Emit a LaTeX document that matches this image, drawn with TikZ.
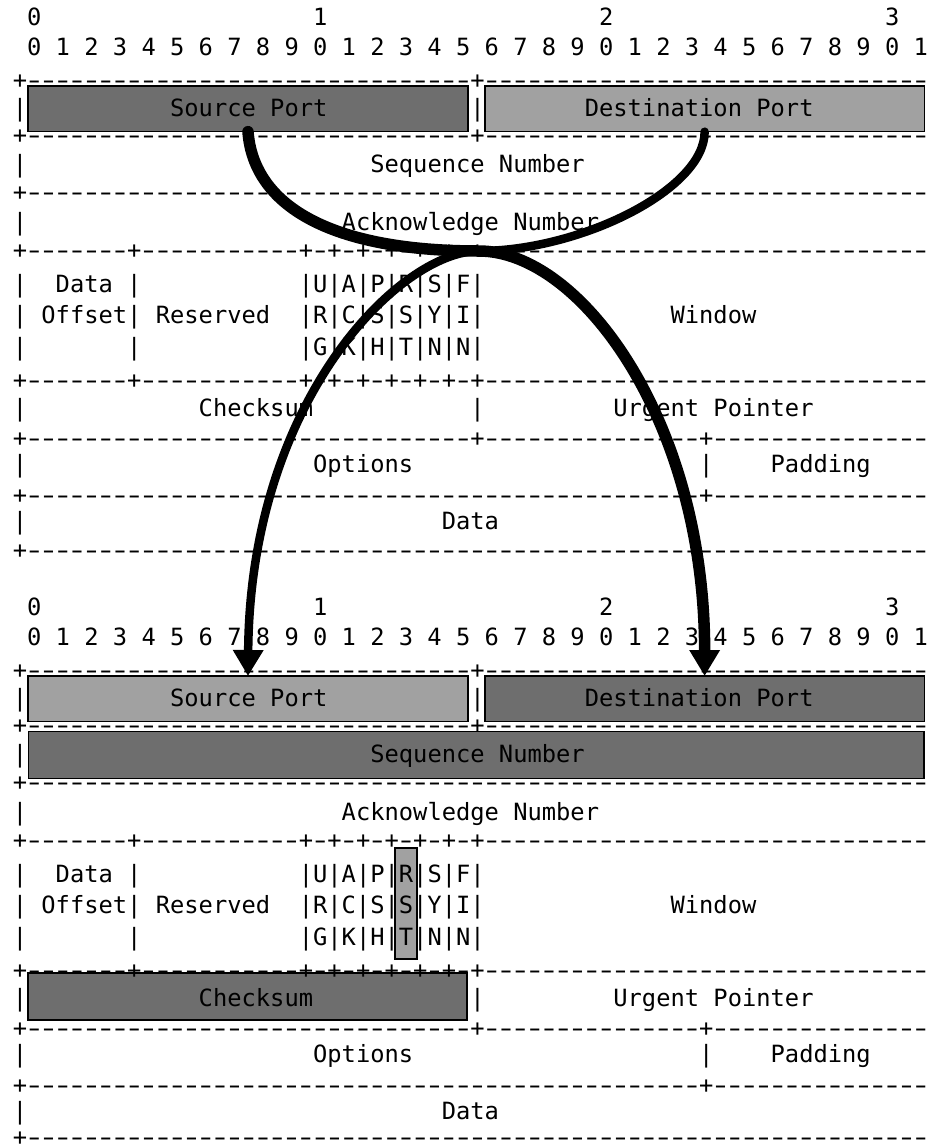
\documentclass[tikz,border=0pt]{standalone}
\usepackage{fontspec}
\usepackage{graphicx}
\setmonofont{DejaVu Sans Mono}
\usetikzlibrary{arrows.meta}
% one character cell holding a stretched hyphen, for the ruled lines
\newcommand\rulechar{\hbox to \fontcharwd\font`x{\hss\scalebox{1.5}[1]{-}\hss}}
\ExplSyntaxOn
\cs_new:Npn \dashes #1 { \prg_replicate:nn {#1} {\rulechar} }
\ExplSyntaxOff
% n blank character cells of the current monospaced font
\newcommand\spc[1]{\kern#1\fontcharwd\font`x\relax}
\definecolor{boxdark}{RGB}{110,110,110}
\definecolor{boxlight}{RGB}{161,161,161}
\tikzset{
  row/.style={anchor=base west, inner sep=0pt, outer sep=0pt,
    font=\ttfamily\fontsize{23.75pt}{28pt}\selectfont},
  field/.style={draw=black, line width=1.4pt, inner sep=0pt, outer sep=0pt},
  dark/.style={field, fill=boxdark},
  light/.style={field, fill=boxlight},
  flow/.style={draw=black, line width=#1, line cap=round,
    -{Triangle[width=29pt,length=26pt]}},
}
\begin{document}
\begin{tikzpicture}[x=1pt,y=-1pt]
\useasboundingbox (0,0) rectangle (930,1146);
\clip (0,0) rectangle (930,1146);

% highlighted fields, upper header
\node[dark,  minimum width=440pt, minimum height=45.7pt] (srcTop) at (248,108.85) {};
\node[light, minimum width=439.3pt, minimum height=45.7pt] (dstTop) at (704.65,108.85) {};
% highlighted fields, lower header
\node[light, minimum width=440pt, minimum height=45.7pt] (srcBot) at (248,698.85) {};
\node[dark,  minimum width=439.3pt, minimum height=45.7pt] (dstBot) at (704.65,698.85) {};
\node[dark,  minimum width=895.7pt, minimum height=46.6pt] (seqBot) at (476.15,755) {};
\node[light, minimum width=22pt, minimum height=111pt] (rstBot) at (406,903.5) {};
\node[dark,  minimum width=439pt, minimum height=47pt] (chkBot) at (247.5,996.5) {};

% upper header
\node[row] (t0)  at (12.85,25)    {\spc{1}0\spc{19}1\spc{19}2\spc{19}3};
\node[row] (t1)  at (12.85,55)    {\spc{1}0 1 2 3 4 5 6 7 8 9 0 1 2 3 4 5 6 7 8 9 0 1 2 3 4 5 6 7 8 9 0 1};
\node[row] (t2)  at (12.85,88.3)  {+\dashes{31}+\dashes{31}};
\node[row] (t3)  at (12.85,116.7) {|\spc{10}Source Port\spc{10}|\spc{7}Destination Port};
\node[row] (t4)  at (12.85,143.3) {+\dashes{31}+\dashes{31}};
\node[row] (t5)  at (12.85,172.5) {|\spc{24}Sequence Number};
\node[row] (t6)  at (12.85,200)   {+\dashes{63}};
\node[row] (t7)  at (12.85,230)   {|\spc{22}Acknowledge Number};
\node[row] (t8)  at (12.85,258.6) {+\dashes{7}+\dashes{11}+\dashes{1}+\dashes{1}+\dashes{1}+\dashes{1}+\dashes{1}+\dashes{1}+\dashes{31}};
\node[row] (t9)  at (12.85,292)   {|\spc{2}Data |\spc{11}|U|A|P|R|S|F|};
\node[row] (t10) at (12.85,323.3) {| Offset| Reserved\spc{2}|R|C|S|S|Y|I|\spc{13}Window};
\node[row] (t11) at (12.85,355)   {|\spc{7}|\spc{11}|G|K|H|T|N|N|};
\node[row] (t12) at (12.85,388)   {+\dashes{7}+\dashes{11}+\dashes{1}+\dashes{1}+\dashes{1}+\dashes{1}+\dashes{1}+\dashes{1}+\dashes{31}};
\node[row] (t13) at (12.85,416.7) {|\spc{12}Checksum\spc{11}|\spc{9}Urgent Pointer};
\node[row] (t14) at (12.85,446.6) {+\dashes{31}+\dashes{15}+\dashes{15}};
\node[row] (t15) at (12.85,472.7) {|\spc{20}Options\spc{20}|\spc{4}Padding};
\node[row] (t16) at (12.85,503.6) {+\dashes{47}+\dashes{15}};
\node[row] (t17) at (12.85,529.7) {|\spc{29}Data};
\node[row] (t18) at (12.85,558.6) {+\dashes{63}};

% lower header
\node[row] (b0)  at (12.85,615)    {\spc{1}0\spc{19}1\spc{19}2\spc{19}3};
\node[row] (b1)  at (12.85,645)    {\spc{1}0 1 2 3 4 5 6 7 8 9 0 1 2 3 4 5 6 7 8 9 0 1 2 3 4 5 6 7 8 9 0 1};
\node[row] (b2)  at (12.85,678.3)  {+\dashes{31}+\dashes{31}};
\node[row] (b3)  at (12.85,706.7)  {|\spc{10}Source Port\spc{10}|\spc{7}Destination Port};
\node[row] (b4)  at (12.85,733.3)  {+\dashes{31}+\dashes{31}};
\node[row] (b5)  at (12.85,762.5)  {|\spc{24}Sequence Number};
\node[row] (b6)  at (12.85,790)    {+\dashes{63}};
\node[row] (b7)  at (12.85,820)    {|\spc{22}Acknowledge Number};
\node[row] (b8)  at (12.85,848.6)  {+\dashes{7}+\dashes{11}+\dashes{1}+\dashes{1}+\dashes{1}+\dashes{1}+\dashes{1}+\dashes{1}+\dashes{31}};
\node[row] (b9)  at (12.85,882)    {|\spc{2}Data |\spc{11}|U|A|P|R|S|F|};
\node[row] (b10) at (12.85,913.3)  {| Offset| Reserved\spc{2}|R|C|S|S|Y|I|\spc{13}Window};
\node[row] (b11) at (12.85,945)    {|\spc{7}|\spc{11}|G|K|H|T|N|N|};
\node[row] (b12) at (12.85,978)    {+\dashes{7}+\dashes{11}+\dashes{1}+\dashes{1}+\dashes{1}+\dashes{1}+\dashes{1}+\dashes{1}+\dashes{31}};
\node[row] (b13) at (12.85,1006.7) {|\spc{12}Checksum\spc{11}|\spc{9}Urgent Pointer};
\node[row] (b14) at (12.85,1036.6) {+\dashes{31}+\dashes{15}+\dashes{15}};
\node[row] (b15) at (12.85,1062.7) {|\spc{20}Options\spc{20}|\spc{4}Padding};
\node[row] (b16) at (12.85,1093.6) {+\dashes{47}+\dashes{15}};
\node[row] (b17) at (12.85,1119.7) {|\spc{29}Data};
\node[row] (b18) at (12.85,1145.6) {+\dashes{63}};

% the two ports swap places between the headers
\coordinate (cross) at (479,251);
\draw[flow=11.5pt] (srcTop.south) .. controls +(5,68) and +(-159,0) .. (cross)
                 .. controls +(101,0) and +(0,-256) .. (dstBot.north);
\draw[flow=8.5pt] (dstTop.south) .. controls +(0,58) and +(101,0) .. (cross)
                 .. controls +(-79,0) and +(2,-276) .. (srcBot.north);
\end{tikzpicture}
\end{document}
